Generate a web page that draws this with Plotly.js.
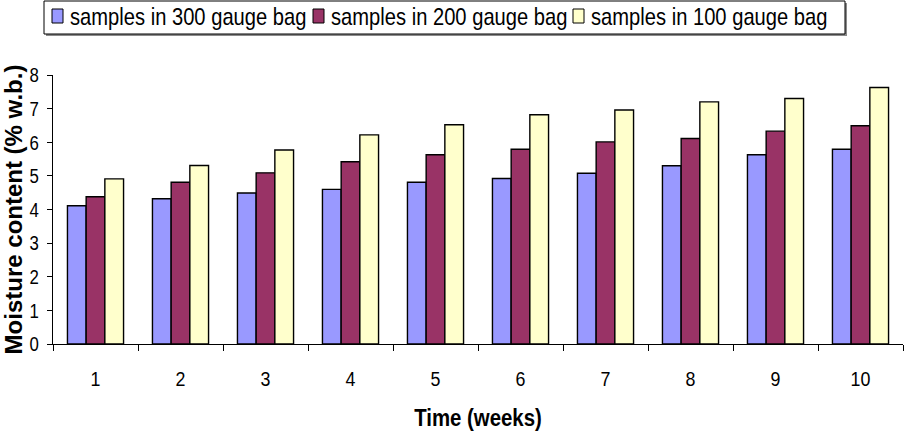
<!DOCTYPE html>
<html>
<head>
<meta charset="utf-8">
<script src="https://cdn.plot.ly/plotly-3.0.1.min.js"></script>
<style>
  html, body { margin: 0; padding: 0; background: #fff; }
  #chart { width: 911px; height: 448px; }
</style>
</head>
<body>
<div id="chart"></div>
<script>
// Moisture content of samples stored in bags of different gauge
const weeks = ['1', '2', '3', '4', '5', '6', '7', '8', '9', '10'];
const seriesNames = ['samples in 300 gauge bag', 'samples in 200 gauge bag', 'samples in 100 gauge bag'];
const gauge300 = [4.11, 4.32, 4.49, 4.60, 4.81, 4.92, 5.08, 5.30, 5.63, 5.79];
const gauge200 = [4.38, 4.81, 5.09, 5.42, 5.63, 5.79, 6.01, 6.11, 6.33, 6.49];
const gauge100 = [4.91, 5.31, 5.77, 6.22, 6.52, 6.82, 6.96, 7.20, 7.30, 7.63];
const seriesColors = ['#9999FF', '#993366', '#FFFFCC'];

const W = 911, H = 448;
const M = { l: 53, r: 8, t: 75, b: 104 };
const plotW = W - M.l - M.r, plotH = H - M.t - M.b;
// pixel -> paper coordinate helpers for the legend box
const px = x => (x - M.l) / plotW;
const py = y => (H - M.b - y) / plotH;

const sans = '"Liberation Sans", Arial, sans-serif';

const values = [gauge300, gauge200, gauge100];
const traces = values.map((v, i) => ({
  type: 'bar',
  x: weeks,
  y: v,
  name: seriesNames[i],
  marker: { color: seriesColors[i], line: { color: '#000', width: 1.4 } },
  showlegend: false,
  hoverinfo: 'x+y+name'
}));

// legend drawn as a framed box with a grey drop shadow
const legendBox = { x0: 44, x1: 845, y0: 1, y1: 34 };
const swatchX = [52, 313, 573];
const shapes = [
  { type: 'rect', xref: 'paper', yref: 'paper', layer: 'above',
    x0: px(legendBox.x0 + 2), x1: px(legendBox.x1 + 2), y0: py(legendBox.y1 + 2), y1: py(legendBox.y0 + 2),
    fillcolor: '#8a8a8a', line: { width: 0 } },
  { type: 'rect', xref: 'paper', yref: 'paper', layer: 'above',
    x0: px(legendBox.x0), x1: px(legendBox.x1), y0: py(legendBox.y1), y1: py(legendBox.y0),
    fillcolor: '#fff', line: { color: '#000', width: 1 } }
];
const annotations = [];
seriesNames.forEach((n, i) => {
  shapes.push({ type: 'rect', xref: 'paper', yref: 'paper', layer: 'above',
    x0: px(swatchX[i]), x1: px(swatchX[i] + 11), y0: py(23), y1: py(9),
    fillcolor: seriesColors[i], line: { color: '#000', width: 1 } });
  annotations.push({ xref: 'paper', yref: 'paper', x: px(swatchX[i] + 16), y: py(16),
    xanchor: 'left', yanchor: 'middle', showarrow: false, text: n,
    font: { family: sans, size: 24, color: '#000' } });
});

const layout = {
  width: W, height: H,
  margin: M,
  paper_bgcolor: '#fff', plot_bgcolor: '#fff',
  barmode: 'group',
  bargap: 0.34, bargroupgap: 0,
  showlegend: false,
  xaxis: {
    type: 'category',
    tickson: 'boundaries',
    ticks: 'outside', ticklen: 6, tickcolor: '#000', tickwidth: 1,
    showline: true, linecolor: '#000', linewidth: 1,
    showgrid: false, zeroline: false,
    tickfont: { family: sans, size: 21, color: '#000' },
    ticklabelstandoff: 16,
    title: { text: '<b>Time (weeks)</b>', font: { family: sans, size: 24, color: '#000' }, standoff: 20 },
    automargin: false
  },
  yaxis: {
    range: [0, 8], dtick: 1,
    ticks: 'outside', ticklen: 5, tickcolor: '#000', tickwidth: 1,
    showline: true, linecolor: '#000', linewidth: 1,
    showgrid: false, zeroline: false,
    tickfont: { family: sans, size: 21, color: '#000' },
    ticklabelstandoff: 4,
    title: { text: '<b>Moisture content (% w.b.)</b>', font: { family: sans, size: 24, color: '#000' }, standoff: 6 },
    automargin: false
  },
  shapes: shapes,
  annotations: annotations
};

// condense horizontal text (narrow face look) about a chosen anchor point
function condense(selector, s, anchor) {
  document.querySelectorAll(selector).forEach(t => {
    const b = t.getBBox();
    const ax = anchor === 'left' ? b.x : anchor === 'right' ? b.x + b.width : b.x + b.width / 2;
    const prev = t.getAttribute('transform') || '';
    t.setAttribute('transform', prev + ' translate(' + ax + ',0) scale(' + s + ',1) translate(' + (-ax) + ',0)');
  });
}

Plotly.newPlot('chart', traces, layout, { displayModeBar: false, staticPlot: true }).then(() => {
  condense('#chart .xtick text', 0.85, 'center');
  condense('#chart .ytick text', 0.8, 'right');
  condense('#chart .xtitle', 0.85, 'center');
  condense('#chart .annotation-text', 0.84, 'left');
});
</script>
</body>
</html>
